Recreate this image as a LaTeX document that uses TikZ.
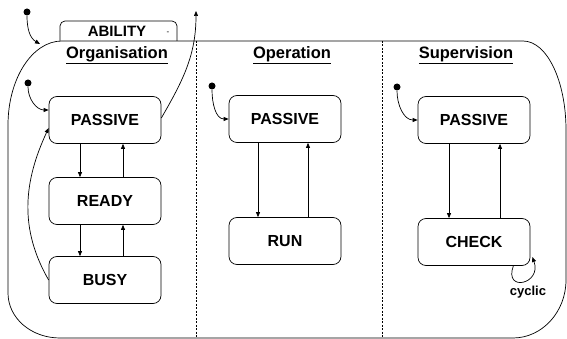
\documentclass[tikz,border=0pt]{standalone}
\usepackage{fontspec}
\setmainfont{Liberation Sans}
\usetikzlibrary{arrows.meta}

\tikzset{
    state/.style={draw, rounded corners=8pt, minimum width=112pt, minimum height=47pt,
        font=\fontsize{16}{19}\selectfont\bfseries},
    trans/.style={-{Triangle[length=5pt,width=4pt]}},
    init/.style={circle, fill, inner sep=0pt, minimum size=7pt},
    region/.style={font=\fontsize{16.5}{19}\selectfont\bfseries},
    divider/.style={dash pattern=on 2pt off 1.5pt}
}

\begin{document}
\begin{tikzpicture}[x=1pt, y=-1pt, line width=0.7pt]
        \useasboundingbox (0,0) rectangle (567,339);

        % outer state and its tab
        \draw (62,41) -- (523,41) .. controls (547,41) and (566,81) .. (566,130)
            -- (566,280) .. controls (566,312) and (542,338) .. (513,338)
            -- (60,338) .. controls (31,338) and (8,318) .. (8,293)
            -- (8,125) .. controls (8,79) and (32,41) .. cycle;
        \draw[rounded corners=5pt] (60,41) |- (177,21) -- (177,41);
        \node[font=\fontsize{15}{18}\selectfont\bfseries] (ability) at (117,31) {ABILITY};
        \node[font=\fontsize{8}{8}\selectfont] (tabmark) at (168,33) {-};

        \draw[divider] (196,41) -- (196,338);
        \draw[divider] (382,41) -- (382,338);

        \node[region] (horg) at (117,55) {\underline{Organisation}};
        \node[region] (hop) at (292,55) {\underline{Operation}};
        \node[region] (hsup) at (466,55) {\underline{Supervision}};

        \node[state] (orgpassive) at (105,120) {PASSIVE};
        \node[state] (orgready) at (105,201) {READY};
        \node[state] (orgbusy) at (105,280) {BUSY};
        \node[state] (oppassive) at (285,119) {PASSIVE};
        \node[state] (oprun) at (285,241) {RUN};
        \node[state] (suppassive) at (474,120) {PASSIVE};
        \node[state] (supcheck) at (474,242) {CHECK};

        \node[init] (i0) at (27,12) {};
        \node[init] (i1) at (28,83) {};
        \node[init] (i2) at (212,86) {};
        \node[init] (i3) at (397,87) {};

        \coordinate (abilityin) at (40,44);
        \coordinate (abilityout) at (196,11);

        % initial transitions
        \draw[trans] (i0) to[out=-90, in=150] (abilityin);
        \draw[trans] (i1) to[out=-90, in=180] ([yshift=10pt]orgpassive.west);
        \draw[trans] (i2) to[out=-90, in=180] (oppassive.west);
        \draw[trans] (i3) to[out=-90, in=180] (suppassive.west);

        \draw[trans] ([yshift=2pt]orgpassive.east) to[out=60, in=-90] (abilityout);
        \draw[trans] (orgbusy.west) to[out=120, in=-115] ([yshift=-8pt]orgpassive.west);

        \draw[trans] ([xshift=-25pt]orgpassive.south) -- ([xshift=-25pt]orgready.north);
        \draw[trans] ([xshift=18pt]orgready.north) -- ([xshift=18pt]orgpassive.south);
        \draw[trans] ([xshift=-25pt]orgready.south) -- ([xshift=-25pt]orgbusy.north);
        \draw[trans] ([xshift=18pt]orgbusy.north) -- ([xshift=18pt]orgready.south);

        \draw[trans] ([xshift=-27pt]oppassive.south) -- ([xshift=-27pt]oprun.north);
        \draw[trans] ([xshift=23pt]oprun.north) -- ([xshift=23pt]oppassive.south);

        \draw[trans] ([xshift=-25pt]suppassive.south) -- ([xshift=-25pt]supcheck.north);
        \draw[trans] ([xshift=26pt]supcheck.north) -- ([xshift=26pt]suppassive.south);

        \draw[trans] ([xshift=-17pt]supcheck.south east) to[out=-110, in=-70, looseness=3.5]
            ([xshift=2pt,yshift=-15pt]supcheck.east);
        \node[font=\fontsize{13}{15}\selectfont\bfseries] (cyclic) at (528,292) {cyclic};
    \end{tikzpicture}
\end{document}
